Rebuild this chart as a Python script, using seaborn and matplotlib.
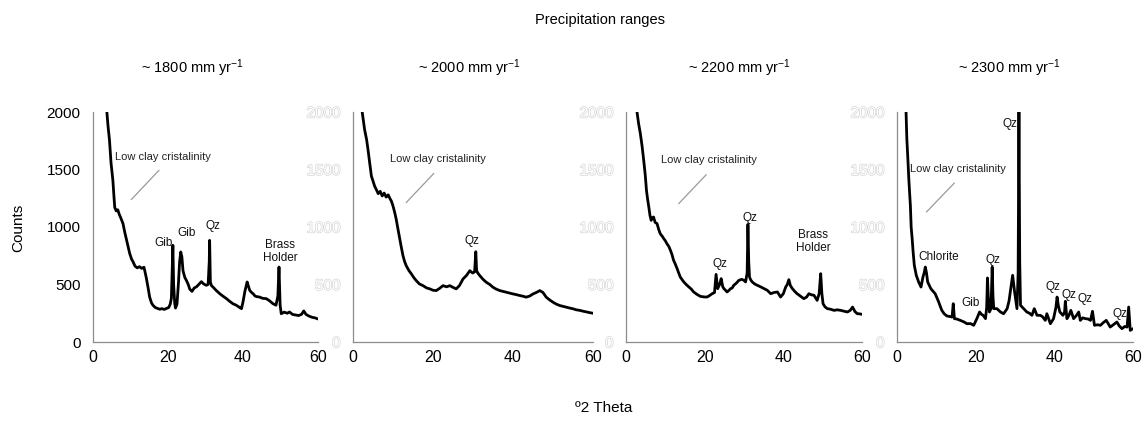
import matplotlib
matplotlib.use("Agg")
import matplotlib.pyplot as plt
import matplotlib.patheffects as pe
import seaborn as sns
import pandas as pd

# ---------------- data ----------------
titles = ["~ 1800 mm yr$^{-1}$", "~ 2000 mm yr$^{-1}$",
          "~ 2200 mm yr$^{-1}$", "~ 2300 mm yr$^{-1}$"]

x1800 = [3.7, 4.0, 4.4, 4.8, 5.3, 5.6, 5.8, 6.2, 6.6, 7.0,
         7.4, 8.0, 8.5, 9.0, 9.8, 10.3, 10.7, 11.2, 11.8, 12.4,
         13.0, 13.6, 14.2, 14.7, 15.1, 15.6, 16.0, 16.6, 17.2, 17.8,
         18.4, 19.0, 19.6, 20.2, 20.6, 20.9, 21.1, 21.3, 21.5, 21.8,
         22.0, 22.4, 22.8, 23.1, 23.4, 23.7, 24.0, 24.5, 24.9, 25.4,
         25.8, 26.4, 27.0, 27.6, 28.2, 28.9, 29.5, 30.2, 30.7, 31.0,
         31.1, 31.3, 31.6, 32.0, 32.8, 33.8, 34.6, 35.6, 36.4, 37.3,
         38.2, 39.1, 39.6, 40.0, 40.5, 41.1, 41.5, 41.8, 42.3, 42.7,
         43.2, 43.6, 44.4, 45.2, 46.2, 47.0, 48.0, 48.8, 49.3, 49.6,
         49.9, 50.2, 51.0, 51.8, 52.4, 53.2, 54.0, 54.8, 55.6, 56.2,
         56.8, 57.6, 58.4, 59.2, 60.0]
y1800 = [2000, 1880, 1754, 1560, 1406, 1260, 1170, 1140, 1150, 1110,
         1080, 1029, 950, 880, 768, 720, 696, 660, 645, 655,
         640, 650, 560, 470, 391, 340, 319, 300, 292, 285,
         290, 283, 292, 300, 330, 380, 600, 841, 500, 333,
         295, 330, 520, 700, 783, 740, 620, 560, 536, 500,
         460, 440, 470, 480, 500, 525, 505, 493, 500, 700,
         884, 520, 490, 478, 450, 420, 400, 377, 355, 333,
         320, 300, 290, 348, 440, 522, 480, 449, 430, 420,
         400, 395, 391, 380, 377, 360, 333, 320, 400, 652,
         320, 246, 260, 250, 261, 240, 235, 230, 240, 270,
         240, 225, 215, 210, 200]

x2000 = [2.3, 2.9, 3.4, 3.75, 4.2, 4.6, 5.0, 5.4, 5.9, 6.3,
         6.8, 7.3, 7.8, 8.3, 8.8, 9.2, 9.6, 10.0, 10.4, 10.8,
         11.2, 11.7, 12.1, 12.5, 12.9, 13.3, 14.0, 14.6, 15.2, 15.8,
         16.6, 17.5, 18.4, 19.2, 20.0, 20.8, 21.6, 22.5, 23.4, 24.2,
         25.0, 25.8, 26.6, 27.5, 28.4, 29.2, 29.9, 30.4, 30.7, 30.9,
         31.2, 31.7, 32.5, 33.3, 34.2, 35.0, 35.8, 36.7, 37.5, 38.3,
         39.2, 40.0, 40.8, 41.7, 42.5, 43.3, 44.2, 45.0, 45.8, 46.7,
         47.5, 48.3, 49.2, 50.0, 50.8, 51.7, 52.5, 53.3, 54.2, 55.0,
         55.8, 56.7, 57.5, 58.3, 59.2, 60.0]
y2000 = [2000, 1847, 1760, 1674, 1550, 1443, 1400, 1356, 1320, 1290,
         1310, 1270, 1295, 1260, 1280, 1250, 1225, 1183, 1130, 1068,
         990, 895, 820, 750, 700, 664, 620, 592, 560, 534,
         505, 490, 470, 462, 450, 447, 465, 490, 480, 490,
         475, 462, 490, 548, 580, 620, 600, 610, 785, 620,
         600, 577, 545, 520, 500, 476, 460, 447, 440, 433,
         425, 418, 412, 404, 398, 390, 400, 418, 430, 447,
         430, 390, 365, 346, 330, 317, 310, 303, 295, 289,
         280, 275, 268, 262, 255, 250]

x2200 = [2.8, 3.2, 3.65, 4.1, 4.5, 4.9, 5.2, 5.5, 5.8, 6.1,
         6.4, 6.7, 7.0, 7.4, 7.9, 8.3, 8.7, 9.2, 9.6, 10.0,
         10.4, 10.9, 11.3, 11.7, 12.1, 12.5, 13.0, 13.4, 13.8, 14.2,
         14.7, 15.3, 16.0, 16.6, 17.2, 18.0, 18.9, 19.8, 20.6, 21.3,
         21.9, 22.5, 22.9, 23.3, 23.8, 24.2, 24.6, 24.9, 25.3, 25.7,
         26.2, 26.6, 27.0, 27.4, 28.0, 28.7, 29.4, 30.0, 30.4, 30.8,
         31.0, 31.2, 31.4, 31.7, 32.1, 32.7, 33.4, 34.2, 35.1, 35.9,
         36.8, 37.6, 38.5, 39.3, 40.0, 40.6, 41.0, 41.4, 41.8, 42.3,
         42.9, 43.5, 44.3, 45.2, 45.9, 46.5, 47.2, 47.8, 48.6, 49.1,
         49.5, 49.8, 50.1, 50.6, 51.2, 52.0, 52.9, 53.7, 54.6, 55.4,
         56.3, 57.0, 57.6, 58.2, 58.8, 59.4, 60.0]
y2200 = [2000, 1900, 1812, 1700, 1580, 1450, 1319, 1240, 1174, 1100,
         1058, 1080, 1087, 1040, 1029, 980, 942, 920, 899, 880,
         855, 830, 797, 760, 710, 680, 638, 600, 565, 545,
         522, 500, 478, 460, 435, 415, 397, 392, 391, 405,
         420, 430, 588, 464, 500, 551, 480, 464, 450, 435,
         450, 464, 470, 493, 510, 536, 545, 536, 522, 600,
         1023, 700, 565, 540, 522, 505, 493, 480, 464, 450,
         420, 430, 435, 391, 420, 478, 500, 542, 490, 464,
         440, 420, 400, 377, 390, 420, 410, 406, 362, 420,
         594, 420, 333, 305, 290, 285, 275, 280, 275, 268,
         261, 275, 304, 265, 246, 245, 240]

x2300 = [2.3, 2.5, 2.75, 3.0, 3.2, 3.4, 3.6, 3.85, 4.1, 4.4,
         4.9, 5.5, 6.1, 6.6, 6.9, 7.2, 7.5, 7.8, 8.6, 9.2,
         9.7, 10.2, 10.6, 11.0, 11.4, 12.0, 12.7, 13.4, 14.0, 14.3,
         14.6, 15.2, 16.1, 17.0, 17.8, 18.7, 19.5, 20.3, 21.0, 21.5,
         21.9, 22.5, 22.8, 23.0, 23.2, 23.5, 23.9, 24.2, 24.4, 24.6,
         25.4, 26.3, 27.1, 28.0, 28.5, 28.8, 29.4, 29.9, 30.5, 30.8,
         31.0, 31.2, 31.4, 32.2, 33.0, 33.7, 34.3, 34.9, 35.6, 36.4,
         37.0, 37.7, 38.1, 39.0, 39.8, 40.4, 40.7, 41.0, 41.4, 42.2,
         42.6, 42.8, 43.2, 43.7, 44.2, 44.9, 45.6, 46.2, 46.6, 47.2,
         47.9, 48.6, 49.2, 49.7, 50.2, 51.0, 51.7, 52.5, 53.2, 53.7,
         54.2, 55.0, 55.9, 56.5, 57.2, 57.9, 58.5, 58.9, 59.3, 60.0]
y2300 = [2000, 1768, 1600, 1420, 1300, 1189, 1000, 900, 783, 667,
         580, 522, 478, 565, 600, 652, 600, 522, 464, 440,
         420, 380, 348, 310, 275, 245, 226, 222, 217, 333,
         203, 200, 188, 175, 159, 160, 145, 203, 261, 240,
         232, 203, 300, 557, 400, 261, 290, 652, 400, 290,
         290, 261, 246, 290, 360, 435, 580, 435, 290, 600,
         2000, 700, 319, 290, 261, 250, 232, 290, 232, 232,
         220, 188, 246, 159, 203, 300, 391, 320, 261, 232,
         260, 354, 203, 230, 275, 203, 230, 261, 188, 210,
         203, 200, 188, 267, 145, 150, 145, 170, 188, 160,
         130, 150, 174, 140, 116, 135, 130, 304, 101, 116]

xs = [x1800, x2000, x2200, x2300]
ys = [y1800, y2000, y2200, y2300]

# peak labels: (text, x, y)
labels1800 = [("Gib", 18.7, 864), ("Gib", 24.9, 948), ("Qz", 32.0, 1006),
              ("Brass\nHolder", 50.0, 790)]
labels2000 = [("Qz", 29.8, 874)]
labels2200 = [("Qz", 23.9, 681), ("Qz", 31.5, 1081), ("Brass\nHolder", 47.6, 875)]
labels2300 = [("Qz", 28.8, 1893), ("Chlorite", 10.6, 739), ("Gib", 18.8, 342),
              ("Qz", 24.3, 710), ("Qz", 39.7, 478), ("Qz", 43.6, 406),
              ("Qz", 47.9, 371), ("Qz", 56.8, 246)]
peak_labels = [labels1800, labels2000, labels2200, labels2300]

# "Low clay cristalinity": text anchor (left) and pointer segment
lcc_text = [(5.8, 1609), (9.2, 1587), (9.0, 1580), (3.2, 1507)]
lcc_line = [((10.2, 1238), (17.6, 1493)), ((13.3, 1212), (20.2, 1466)),
            ((13.4, 1203), (20.4, 1455)), ((7.5, 1131), (14.6, 1383))]

# ---------------- style ----------------
sns.set_style("white")
plt.rcParams["font.family"] = ["Liberation Sans", "DejaVu Sans"]
plt.rcParams["mathtext.fontset"] = "custom"
plt.rcParams["mathtext.rm"] = "Liberation Sans"
plt.rcParams["mathtext.it"] = "Liberation Sans"
plt.rcParams["text.color"] = "black"
plt.rcParams["xtick.labelcolor"] = "black"
plt.rcParams["ytick.labelcolor"] = "black"

fig = plt.figure(figsize=(11.47, 4.21), dpi=100)
W, H = 1147, 421
boxes = [(93, 225), (353, 240), (626, 236), (897, 236)]
top, bottom = 112, 342
spine_c = "#8c8c8c"

for i, (l, w) in enumerate(boxes):
    ax = fig.add_axes([l / W, (H - bottom) / H, w / W, (bottom - top) / H])
    df = pd.DataFrame({"theta": xs[i], "counts": ys[i]})
    sns.lineplot(data=df, x="theta", y="counts", ax=ax, color="black",
                 linewidth=2.0, estimator=None, sort=False)
    ax.set_xlim(0, 60)
    ax.set_ylim(0, 2000)
    ax.set_xlabel("")
    ax.set_ylabel("")
    ax.set_xticks(range(0, 61, 20))
    ax.set_xticks(range(0, 61, 4), minor=True)
    ax.set_yticks(range(0, 2001, 500))
    for s in ["top", "right"]:
        ax.spines[s].set_visible(False)
    for s in ["left", "bottom"]:
        ax.spines[s].set_color(spine_c)
        ax.spines[s].set_linewidth(0.9)
    ax.tick_params(axis="x", which="both", direction="inout", length=6,
                   width=0.8, color=spine_c, labelsize=11.5, pad=3,
                   labelcolor="black")
    ax.tick_params(axis="y", direction="out", length=5, width=0.8,
                   color=spine_c, labelsize=11, pad=4, labelcolor="black")
    if i > 0:
        for t in ax.get_yticklabels():
            t.set_color("white")
            t.set_path_effects([pe.withStroke(linewidth=0.9, foreground="#d2d2d2")])
    ax.set_facecolor("none")
    # annotations
    tx, ty = lcc_text[i]
    ax.text(tx, ty, "Low clay cristalinity", fontsize=8, ha="left",
            va="center", color="#222222")
    (x0, y0), (x1, y1) = lcc_line[i]
    ax.plot([x0, x1], [y0, y1], color="#9a9a9a", linewidth=0.9)
    for txt, px, py in peak_labels[i]:
        ax.text(px, py, txt, fontsize=8.5, ha="center", va="center",
                color="#111111", linespacing=1.1)

# figure texts
fig.text(600 / W, 1 - 20 / H, "Precipitation ranges", ha="center",
         va="center", fontsize=10.5)
for cx, t in zip([193, 470, 740, 1010], titles):
    fig.text(cx / W, 1 - 68 / H, t, ha="center", va="center", fontsize=10.5)
fig.text(18 / W, 1 - 228 / H, "Counts", rotation=90, ha="center",
         va="center", fontsize=11)
fig.text(604 / W, 1 - 408 / H, "º2 Theta", ha="center", va="center",
         fontsize=11)

fig.savefig("out.png", dpi=100)
